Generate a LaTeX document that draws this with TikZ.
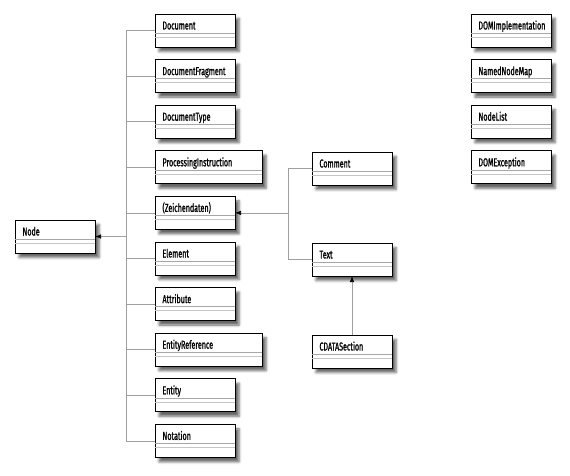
\documentclass[tikz,border=0pt]{standalone}
\usepackage{fontspec}
\setmainfont{Fira Sans}[FakeStretch=0.62, FakeBold=1.1]
\usetikzlibrary{arrows.meta, positioning, shadows.blur}

\begin{document}
\begin{tikzpicture}[
            x=1pt, y=-1pt,
            node distance=12.6pt,
            class/.style={rectangle, draw, line width=0.8pt, fill=white, outer sep=0pt,
                text width=65pt, inner xsep=7.5pt, inner ysep=0pt, align=left,
                text height=15.5pt, text depth=17.5pt, font=\fontsize{11.5}{13}\selectfont,
                blur shadow={shadow xshift=4pt, shadow yshift=-4.5pt, shadow blur radius=2.5pt, shadow opacity=60}},
            wide/.style={text width=92pt},
            line/.style={draw, gray!75, line width=0.7pt},
            arrow/.style={line, -{Latex[black, length=6pt, width=4.5pt]}}
        ]
            \useasboundingbox (0,0) rectangle (570,476);

            % Base class
            \node [class, anchor=north west] (nodeclass) at (15,220) {Node};

            % Subclasses of Node
            \node [class, anchor=north west] (document) at (155,14) {Document};
            \node [class, below=of document.south west, anchor=north west] (docfragment) {DocumentFragment};
            \node [class, below=of docfragment.south west, anchor=north west] (doctype) {DocumentType};
            \node [class, wide, below=of doctype.south west, anchor=north west] (procinstr) {ProcessingInstruction};
            \node [class, below=of procinstr.south west, anchor=north west] (chardata) {(Zeichendaten)};
            \node [class, below=of chardata.south west, anchor=north west] (element) {Element};
            \node [class, below=of element.south west, anchor=north west] (attribute) {Attribute};
            \node [class, wide, below=of attribute.south west, anchor=north west] (entityref) {EntityReference};
            \node [class, below=of entityref.south west, anchor=north west] (entity) {Entity};
            \node [class, below=of entity.south west, anchor=north west] (notation) {Notation};

            % Character data
            \node [class, anchor=north west] (comment) at (312,152) {Comment};
            \node [class, anchor=north west] (text) at (312,243) {Text};
            \node [class, anchor=north west] (cdata) at (312,335) {CDATASection};

            % Standalone interfaces
            \node [class, anchor=north west] (domimpl) at (471,14) {DOMImplementation};
            \node [class, below=of domimpl.south west, anchor=north west] (nodemap) {NamedNodeMap};
            \node [class, below=of nodemap.south west, anchor=north west] (nodelist) {NodeList};
            \node [class, below=of nodelist.south west, anchor=north west] (domexc) {DOMException};

            % Compartments
            \foreach \n in {nodeclass, document, docfragment, doctype, procinstr, chardata, element,
                attribute, entityref, entity, notation, comment, text, cdata, domimpl, nodemap, nodelist, domexc} {
                \draw [gray!70, line width=0.6pt] ([yshift=-19pt]\n.north west) -- ([yshift=-19pt]\n.north east);
                \draw [gray!45, line width=0.6pt] ([yshift=-23pt]\n.north west) -- ([yshift=-23pt]\n.north east);
            }

            % Edges
            \coordinate (hub) at ([xshift=31pt]nodeclass.east);
            \coordinate (hubchar) at ([xshift=53pt]chardata.east);
            \foreach \n in {document, docfragment, doctype, procinstr, chardata, element,
                attribute, entityref, entity, notation}
                \path [line] (hub) |- (\n.west);
            \path [arrow] (hub) -- (nodeclass.east);
            \path [line] (hubchar) |- (comment.west);
            \path [line] (hubchar) |- (text.west);
            \path [arrow] (hubchar) -- (chardata.east);
            \path [arrow] (cdata.north) -- (text.south);
        \end{tikzpicture}
\end{document}
